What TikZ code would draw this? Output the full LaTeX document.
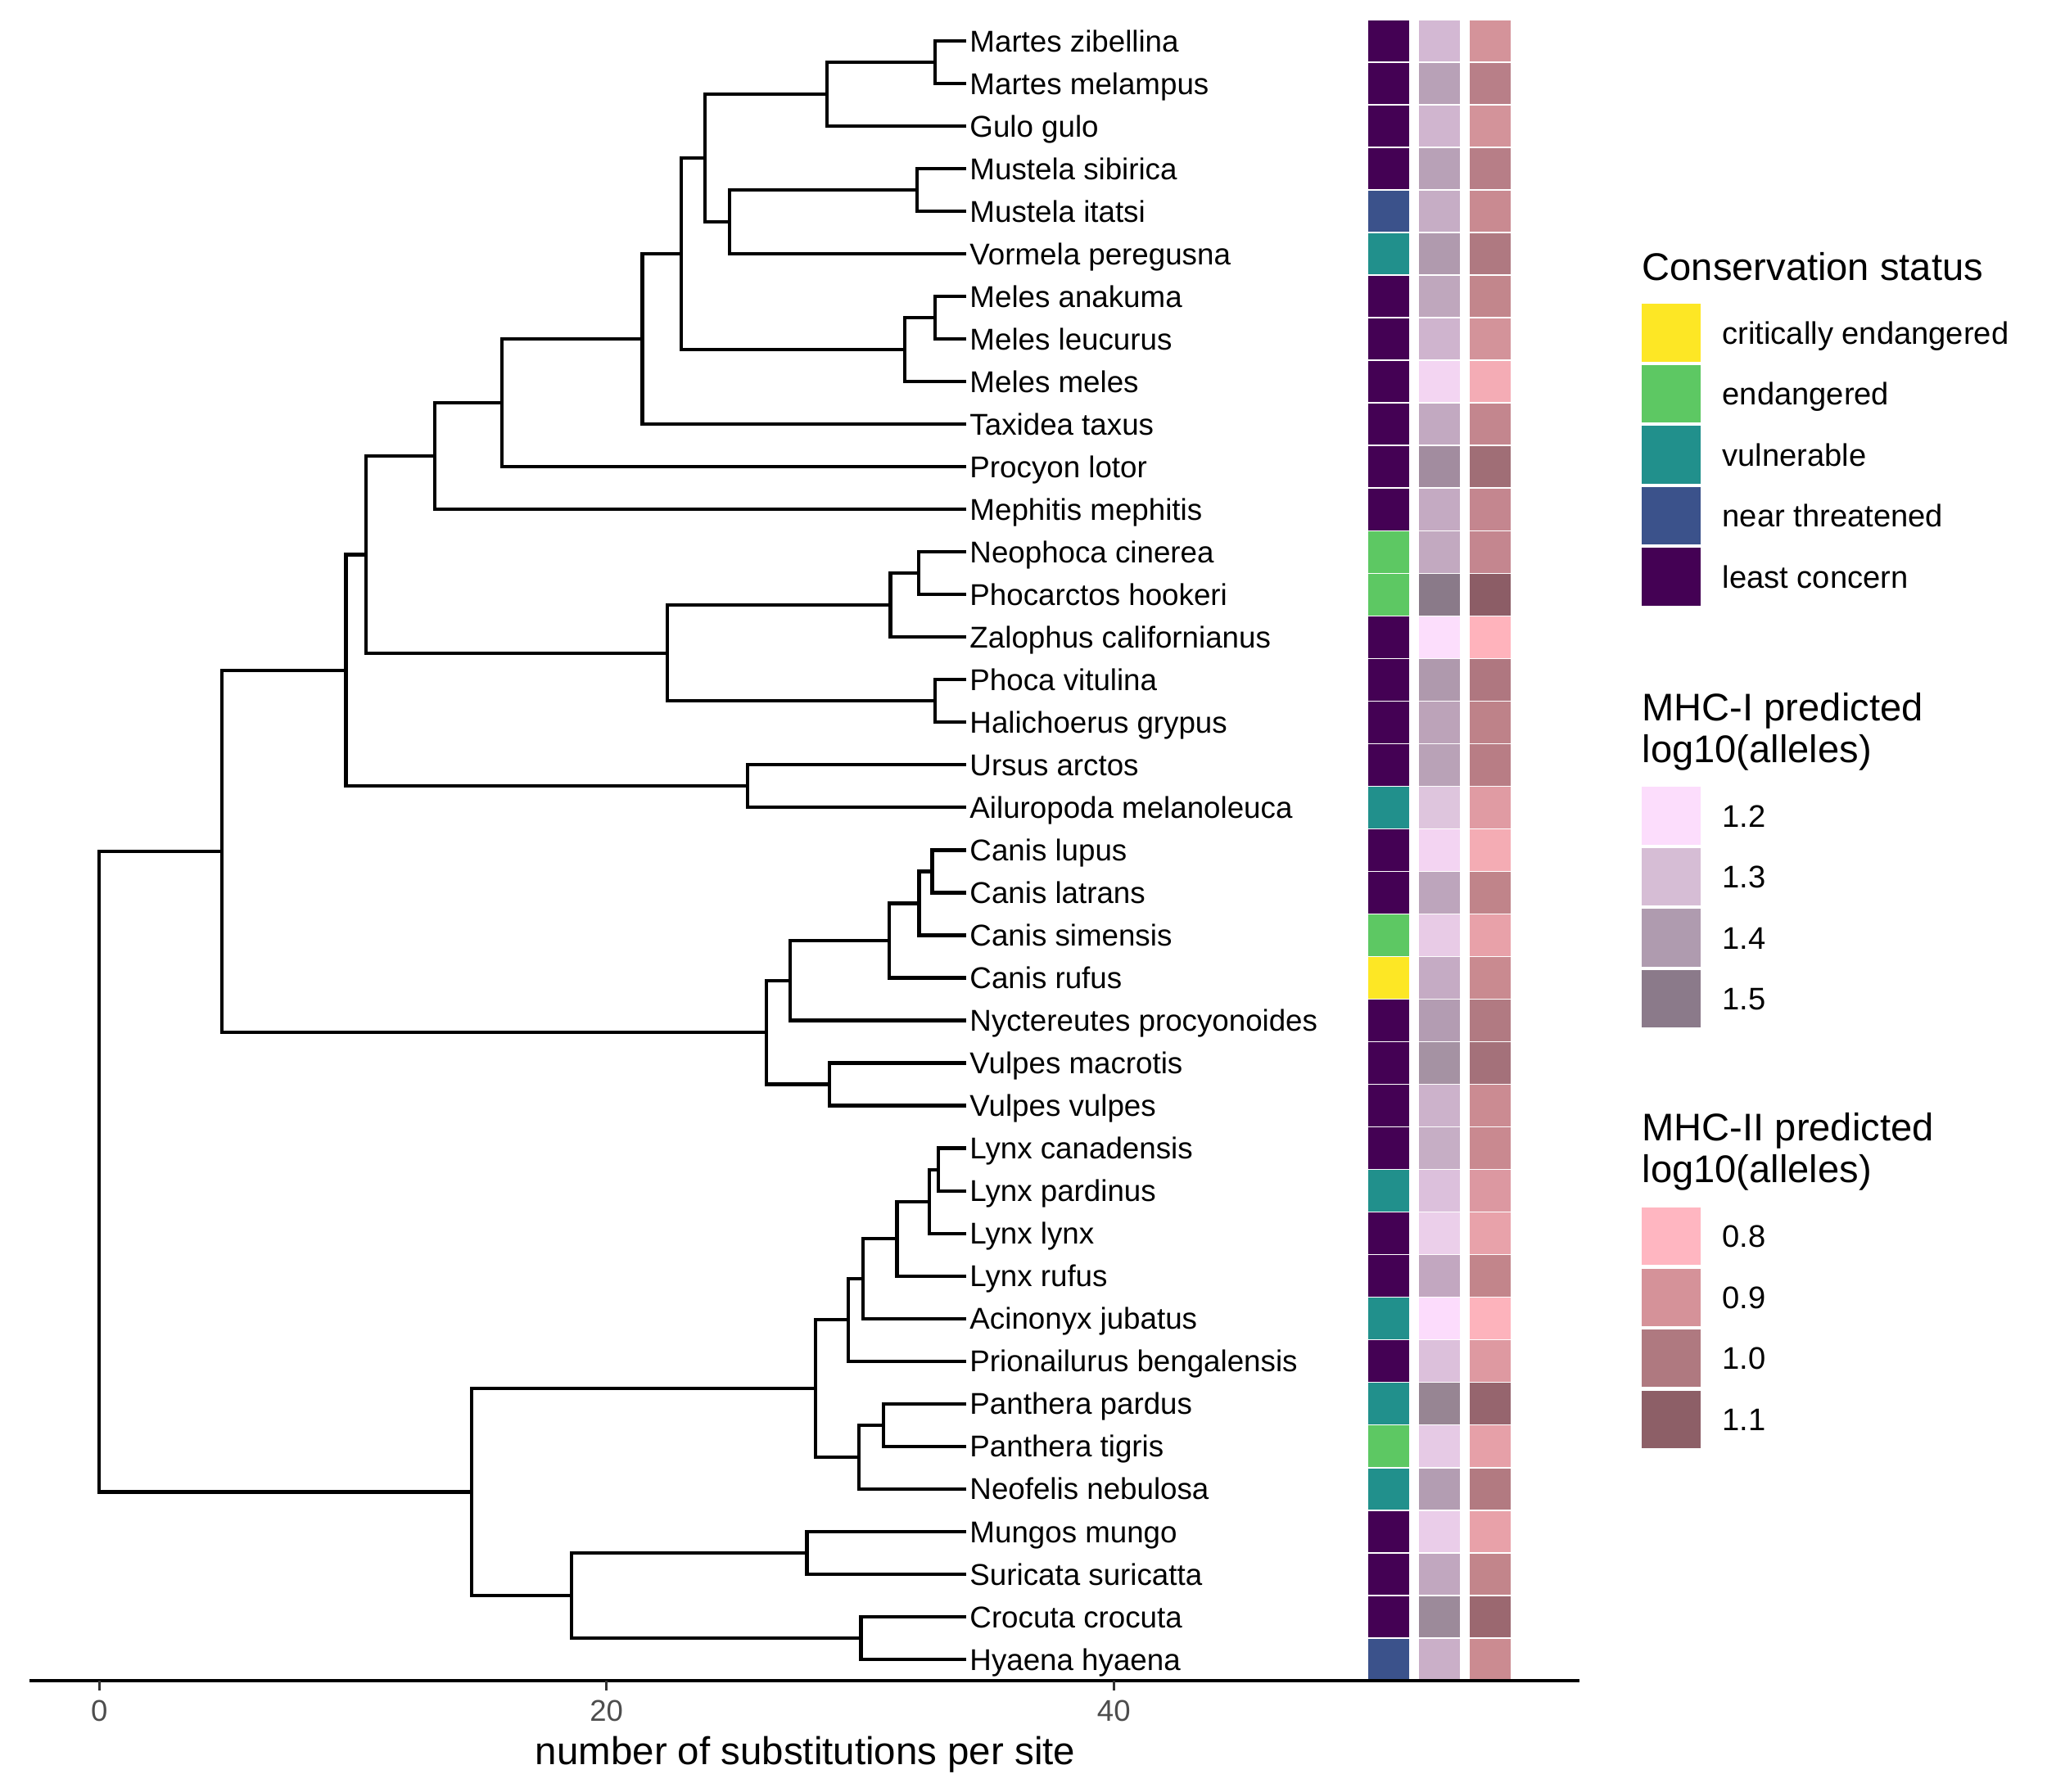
\documentclass[tikz,border=0pt]{standalone}
\usepackage{fontspec}
\setmainfont{Liberation Sans}
\usetikzlibrary{positioning}

\definecolor{lc}{HTML}{440154}
\definecolor{nt}{HTML}{3B528B}
\definecolor{vu}{HTML}{21908C}
\definecolor{en}{HTML}{5DC863}
\definecolor{cr}{HTML}{FDE725}
\definecolor{tickgray}{HTML}{333333}
\definecolor{labgray}{HTML}{4D4D4D}

\begin{document}
\begin{tikzpicture}[
        node distance = 0pt,
        branch/.style = {line width=1.2pt, line cap=rect},
        tiplab/.style = {anchor=west, inner xsep=1.6pt, inner ysep=0pt, text height=7.5pt, text depth=0pt, font=\fontsize{10.45}{12}\selectfont},
        tile/.style = {draw=white, line width=0.4pt},
        key/.style = {draw=white, line width=1.2pt, minimum width=0.77cm, minimum height=0.745cm, inner sep=0pt, outer sep=0pt},
        legtitle/.style = {inner sep=0pt, align=left, font=\fontsize{13.4}{14.5}\selectfont},
        legtext/.style = {inner sep=0pt, text height=7.8pt, text depth=0pt, font=\fontsize{10.85}{13}\selectfont},
        ticklab/.style = {inner sep=0pt, text height=7.3pt, text depth=0pt, text=labgray, font=\fontsize{10.4}{12}\selectfont},
        axtitle/.style = {inner sep=0pt, font=\fontsize{13.5}{16}\selectfont}
    ]
    \useasboundingbox (0,0) rectangle (25,21.88);
%
    \begin{scope}[shift={(1.2117,21.901)}, x=0.30979cm, y=-0.52026cm]
        \foreach \sp [count=\i] in {Martes zibellina, Martes melampus, Gulo gulo, Mustela sibirica, Mustela itatsi,
            Vormela peregusna, Meles anakuma, Meles leucurus, Meles meles, Taxidea taxus, Procyon lotor,
            Mephitis mephitis, Neophoca cinerea, Phocarctos hookeri, Zalophus californianus, Phoca vitulina,
            Halichoerus grypus, Ursus arctos, Ailuropoda melanoleuca, Canis lupus, Canis latrans, Canis simensis,
            Canis rufus, Nyctereutes procyonoides, Vulpes macrotis, Vulpes vulpes, Lynx canadensis, Lynx pardinus,
            Lynx lynx, Lynx rufus, Acinonyx jubatus, Prionailurus bengalensis, Panthera pardus, Panthera tigris,
            Neofelis nebulosa, Mungos mungo, Suricata suricatta, Crocuta crocuta, Hyaena hyaena}
            \node[tiplab] (l\i) at (34.12,\i) {\sp};
%
        \coordinate (n0)  at (0,27.55);
        \coordinate (n1)  at (32.94,1.5);
        \coordinate (n2)  at (28.69,2.25);
        \coordinate (n3)  at (32.24,4.5);
        \coordinate (n4)  at (24.86,5.25);
        \coordinate (n5)  at (23.88,3.75);
        \coordinate (n6)  at (32.94,7.5);
        \coordinate (n7)  at (31.75,8.25);
        \coordinate (n8)  at (22.95,6);
        \coordinate (n9)  at (21.41,8);
        \coordinate (n10) at (15.88,9.5);
        \coordinate (n11) at (13.23,10.75);
        \coordinate (n12) at (32.30,13.5);
        \coordinate (n13) at (31.19,14.25);
        \coordinate (n14) at (32.94,16.5);
        \coordinate (n15) at (22.39,15.375);
        \coordinate (n16) at (10.52,13.0625);
        \coordinate (n17) at (25.55,18.5);
        \coordinate (n18) at (9.73,15.78);
        \coordinate (n19) at (32.84,20.5);
        \coordinate (n20) at (32.32,21.25);
        \coordinate (n21) at (31.14,22.125);
        \coordinate (n22) at (27.23,23.06);
        \coordinate (n23) at (28.80,25.5);
        \coordinate (n24) at (26.30,24.28);
        \coordinate (n25) at (4.84,20.03);
        \coordinate (n26) at (33.07,27.5);
        \coordinate (n27) at (32.73,28.25);
        \coordinate (n28) at (31.45,29.125);
        \coordinate (n29) at (30.11,30.06);
        \coordinate (n30) at (29.54,31.03);
        \coordinate (n31) at (30.93,33.5);
        \coordinate (n32) at (29.95,34.25);
        \coordinate (n33) at (28.23,32.64);
        \coordinate (n34) at (27.90,36.5);
        \coordinate (n35) at (30.03,38.5);
        \coordinate (n36) at (18.63,37.5);
        \coordinate (n37) at (14.69,35.07);
%
        \draw[branch] (l1.west) -| (n1) |- (l2.west);
        \draw[branch] (n1) -| (n2) |- (l3.west);
        \draw[branch] (l4.west) -| (n3) |- (l5.west);
        \draw[branch] (n3) -| (n4) |- (l6.west);
        \draw[branch] (n2) -| (n5) |- (n4);
        \draw[branch] (l7.west) -| (n6) |- (l8.west);
        \draw[branch] (n6) -| (n7) |- (l9.west);
        \draw[branch] (n5) -| (n8) |- (n7);
        \draw[branch] (n8) -| (n9) |- (l10.west);
        \draw[branch] (n9) -| (n10) |- (l11.west);
        \draw[branch] (n10) -| (n11) |- (l12.west);
        \draw[branch] (l13.west) -| (n12) |- (l14.west);
        \draw[branch] (n12) -| (n13) |- (l15.west);
        \draw[branch] (l16.west) -| (n14) |- (l17.west);
        \draw[branch] (n13) -| (n15) |- (n14);
        \draw[branch] (n11) -| (n16) |- (n15);
        \draw[branch] (l18.west) -| (n17) |- (l19.west);
        \draw[branch] (n16) -| (n18) |- (n17);
        \draw[branch] (l20.west) -| (n19) |- (l21.west);
        \draw[branch] (n19) -| (n20) |- (l22.west);
        \draw[branch] (n20) -| (n21) |- (l23.west);
        \draw[branch] (n21) -| (n22) |- (l24.west);
        \draw[branch] (l25.west) -| (n23) |- (l26.west);
        \draw[branch] (n22) -| (n24) |- (n23);
        \draw[branch] (n18) -| (n25) |- (n24);
        \draw[branch] (l27.west) -| (n26) |- (l28.west);
        \draw[branch] (n26) -| (n27) |- (l29.west);
        \draw[branch] (n27) -| (n28) |- (l30.west);
        \draw[branch] (n28) -| (n29) |- (l31.west);
        \draw[branch] (n29) -| (n30) |- (l32.west);
        \draw[branch] (l33.west) -| (n31) |- (l34.west);
        \draw[branch] (n31) -| (n32) |- (l35.west);
        \draw[branch] (n30) -| (n33) |- (n32);
        \draw[branch] (l36.west) -| (n34) |- (l37.west);
        \draw[branch] (l38.west) -| (n35) |- (l39.west);
        \draw[branch] (n34) -| (n36) |- (n35);
        \draw[branch] (n33) -| (n37) |- (n36);
        \draw[branch] (n25) -| (n0) |- (n37);
%
        \foreach \r/\cs/\ma/\mb in {1/lc/D3B8D3/D4939A, 2/lc/B8A1B7/B87F88, 3/lc/D0B5CF/D3939A, 4/lc/B8A1B7/B77E87,
            5/nt/C6ADC5/C98A91, 6/vu/B09AAE/AF7981, 7/lc/BFA7BD/C2868C, 8/lc/CFB4CE/D3939A, 9/lc/F3D5F2/F4ACB5,
            10/lc/C2A9C1/C3868E, 11/lc/A28C9F/A06E76, 12/lc/C4AAC2/C4868F, 13/en/C2A9C0/C4868F, 14/en/8A7A89/8C5D66,
            15/lc/FCDEFC/FFB3BC, 16/lc/AF99AD/AF7780, 17/lc/BCA3B9/BE8289, 18/lc/B9A2B7/B87D85, 19/vu/DEC5DD/E09BA3,
            20/lc/F3D4F2/F4ACB4, 21/lc/BDA5BC/C0848A, 22/en/E8CBE6/E8A1A9, 23/cr/C5ABC4/C98A90, 24/lc/B39CB2/B17A82,
            25/lc/A592A3/A4717A, 26/lc/CCB2CB/CB8B92, 27/lc/C6AEC5/C98990, 28/vu/DCC0DC/DC98A1, 29/lc/EBCFEA/E8A2AA,
            30/lc/C2A7C0/C2858B, 31/vu/FCDCFC/FDB3BC, 32/lc/DCC0DB/DE99A1, 33/vu/978593/96656E, 34/en/E6CAE5/E6A0A8,
            35/vu/B39DB2/B27A81, 36/lc/EACDE9/E8A1A9, 37/lc/C1A7BF/C2858B, 38/lc/9C8A9A/9B6870, 39/nt/CAAFC8/CB8B91} {
            \definecolor{mhcA}{HTML}{\ma}
            \definecolor{mhcB}{HTML}{\mb}
            \filldraw[tile, fill=\cs] (50,\r-0.5) rectangle (51.66,\r+0.5);
            \filldraw[tile, fill=mhcA] (52,\r-0.5) rectangle (53.66,\r+0.5);
            \filldraw[tile, fill=mhcB] (54,\r-0.5) rectangle (55.66,\r+0.5);
        }
%
        \coordinate (ax0) at (-2.75,39.5);
        \coordinate (ax1) at (58.36,39.5);
        \draw[line width=1.2pt] (ax0) -- (ax1);
        \foreach \t in {0,20,40} {
            \draw[tickgray, line width=0.9pt] (\t,39.5) -- ++(0,-0.12cm);
            \node[ticklab, yshift=-0.365cm] (tk\t) at (\t,39.5) {\t};
        }
        \node[axtitle, anchor=base, yshift=-1.03cm] (xlab) at (27.84,39.5) {number of substitutions per site};
    \end{scope}
%
    \node[legtitle, anchor=base west] (csT) at (20.05,18.457) {Conservation status};
    \node[key, fill=cr, anchor=north west] (cs1) at (20.024,18.186) {};
    \node[key, fill=en, below=of cs1] (cs2) {};
    \node[key, fill=vu, below=of cs2] (cs3) {};
    \node[key, fill=nt, below=of cs3] (cs4) {};
    \node[key, fill=lc, below=of cs4] (cs5) {};
    \node[legtext, right=0.235cm of cs1] (cs1t) {critically endangered};
    \node[legtext, right=0.235cm of cs2] (cs2t) {endangered};
    \node[legtext, right=0.235cm of cs3] (cs3t) {vulnerable};
    \node[legtext, right=0.235cm of cs4] (cs4t) {near threatened};
    \node[legtext, right=0.235cm of cs5] (cs5t) {least concern};
%
    \node[legtitle, anchor=base west] (m1T) at (20.05,12.569) {MHC-I predicted\\log10(alleles)};
    \node[key, fill={rgb,255:red,252;green,221;blue,252}, anchor=north west] (m11) at (20.024,12.288) {};
    \node[key, fill={rgb,255:red,214;green,189;blue,213}, below=of m11] (m12) {};
    \node[key, fill={rgb,255:red,175;green,155;blue,175}, below=of m12] (m13) {};
    \node[key, fill={rgb,255:red,139;green,122;blue,138}, below=of m13] (m14) {};
    \node[legtext, right=0.235cm of m11] (m11t) {1.2};
    \node[legtext, right=0.235cm of m12] (m12t) {1.3};
    \node[legtext, right=0.235cm of m13] (m13t) {1.4};
    \node[legtext, right=0.235cm of m14] (m14t) {1.5};
%
    \node[legtitle, anchor=base west] (m2T) at (20.05,7.435) {MHC-II predicted\\log10(alleles)};
    \node[key, fill={rgb,255:red,255;green,182;blue,193}, anchor=north west] (m21) at (20.024,7.150) {};
    \node[key, fill={rgb,255:red,213;green,146;blue,153}, below=of m21] (m22) {};
    \node[key, fill={rgb,255:red,175;green,121;blue,128}, below=of m22] (m23) {};
    \node[key, fill={rgb,255:red,141;green,95;blue,103}, below=of m23] (m24) {};
    \node[legtext, right=0.235cm of m21] (m21t) {0.8};
    \node[legtext, right=0.235cm of m22] (m22t) {0.9};
    \node[legtext, right=0.235cm of m23] (m23t) {1.0};
    \node[legtext, right=0.235cm of m24] (m24t) {1.1};
\end{tikzpicture}
\end{document}
